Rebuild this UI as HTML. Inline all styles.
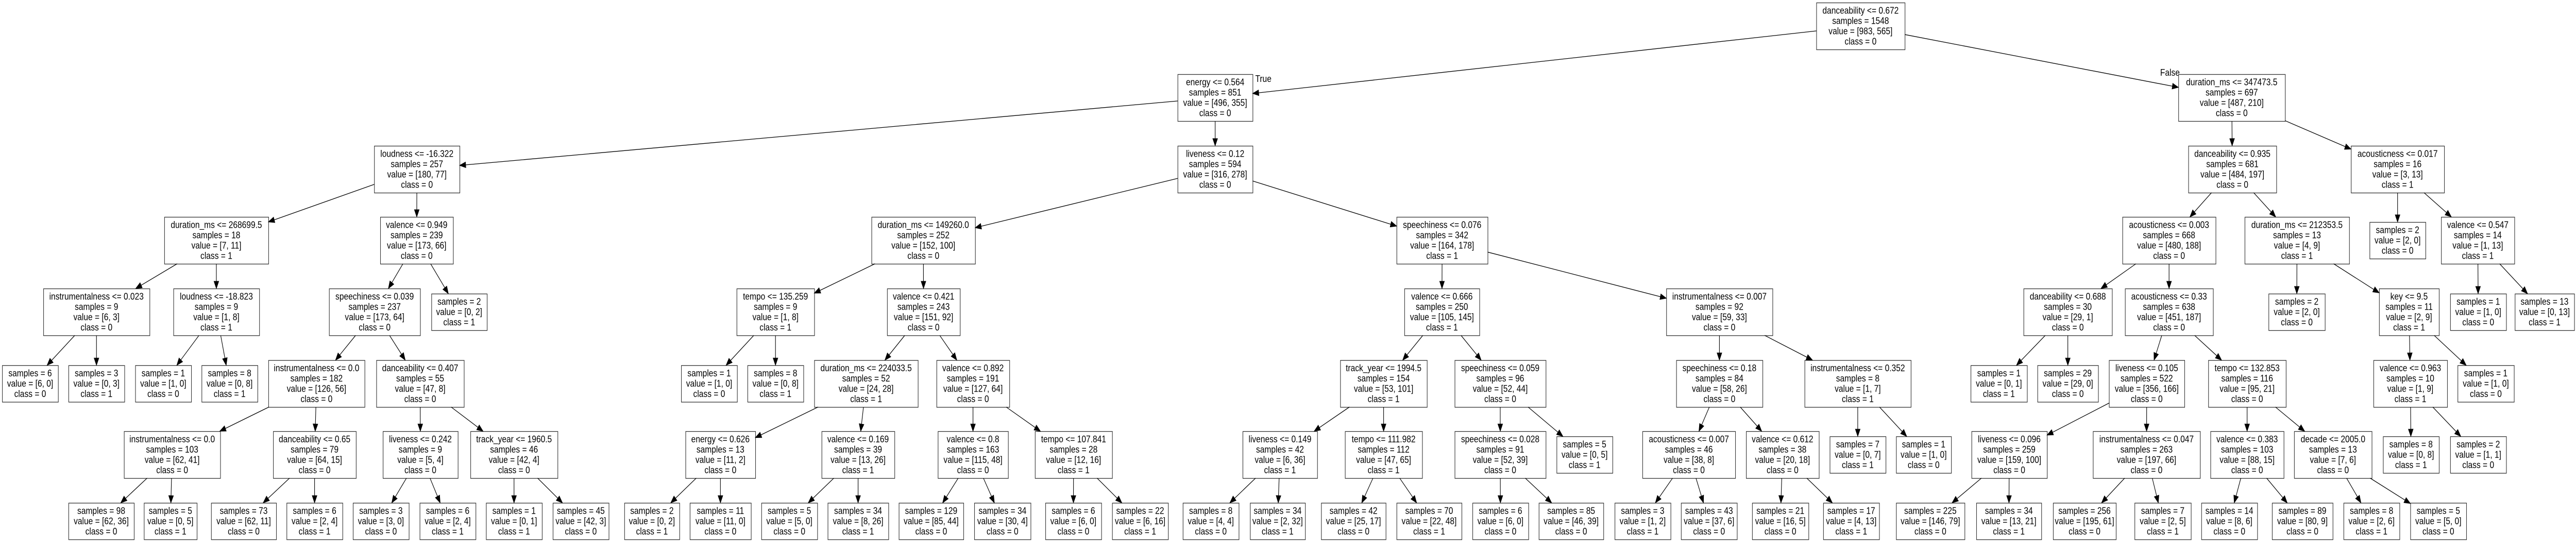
<!DOCTYPE html>
<html><head><meta charset="utf-8"><style>
html,body{margin:0;padding:0;background:#fff;width:100%;height:100%;overflow:hidden;}
svg{display:block;width:100vw;height:100vh;}
text{font-family:"Liberation Sans",Arial,sans-serif;font-size:18.5px;fill:#000;}
</style></head><body>
<svg id="s" xmlns="http://www.w3.org/2000/svg" viewBox="0 0 5941 1052" preserveAspectRatio="none">
<rect width="5941" height="1052" fill="#fff"/>
<text x="2895" y="159">True</text>
<text x="4982" y="147">False</text>
</svg>
<script>
var T=[5,144,283,421,560,699,837,976];
function N(x1,x2,r,t){var c=[].slice.call(arguments,4);return {x1:x1,x2:x2,r:r,t:t.split('|'),c:c};}
function L(x1,x2,r,s,v,c){return N(x1,x2,r,'samples = '+s+'|value = ['+v+']|class = '+c);}
var tree=
N(4189,4393,0,'danceability <= 0.672|samples = 1548|value = [983, 565]|class = 0',
 N(2716,2889,1,'energy <= 0.564|samples = 851|value = [496, 355]|class = 0',
  N(863,1060,2,'loudness <= -16.322|samples = 257|value = [180, 77]|class = 0',
   N(379,619,3,'duration_ms <= 268699.5|samples = 18|value = [7, 11]|class = 1',
    N(100,345,4,'instrumentalness <= 0.023|samples = 9|value = [6, 3]|class = 0',
     L(5,134,5,6,'6, 0',0), L(158,287,5,3,'0, 3',1)),
    N(400,598,4,'loudness <= -18.823|samples = 9|value = [1, 8]|class = 1',
     L(312,441,5,1,'1, 0',0), L(465,594,5,8,'0, 8',1))),
   N(877,1045,3,'valence <= 0.949|samples = 239|value = [173, 66]|class = 0',
    N(759,969,4,'speechiness <= 0.039|samples = 237|value = [173, 64]|class = 0',
     N(619,841,5,'instrumentalness <= 0.0|samples = 182|value = [126, 56]|class = 0',
      N(286,508,6,'instrumentalness <= 0.0|samples = 103|value = [62, 41]|class = 0',
       L(158,309,7,98,'62, 36',0), L(332,454,7,5,'0, 5',1)),
      N(630,821,6,'danceability <= 0.65|samples = 79|value = [64, 15]|class = 0',
       L(487,637,7,73,'62, 11',0), L(661,790,7,6,'2, 4',1))),
     N(868,1070,5,'danceability <= 0.407|samples = 55|value = [47, 8]|class = 0',
      N(883,1056,6,'liveness <= 0.242|samples = 9|value = [5, 4]|class = 0',
       L(814,943,7,3,'3, 0',0), L(968,1097,7,6,'2, 4',1)),
      N(1085,1286,6,'track_year <= 1960.5|samples = 46|value = [42, 4]|class = 0',
       L(1121,1250,7,1,'0, 1',1), L(1275,1404,7,45,'42, 3',0)))),
    L(995,1123,4,2,'0, 2',1))),
  N(2716,2889,2,'liveness <= 0.12|samples = 594|value = [316, 278]|class = 0',
   N(2010,2249,3,'duration_ms <= 149260.0|samples = 252|value = [152, 100]|class = 0',
    N(1699,1878,4,'tempo <= 135.259|samples = 9|value = [1, 8]|class = 1',
     L(1571,1700,5,1,'1, 0',0), L(1724,1853,5,8,'0, 8',1)),
    N(2046,2214,4,'valence <= 0.421|samples = 243|value = [151, 92]|class = 0',
     N(1878,2117,5,'duration_ms <= 224033.5|samples = 52|value = [24, 28]|class = 1',
      N(1581,1742,6,'energy <= 0.626|samples = 13|value = [11, 2]|class = 0',
       L(1440,1567,7,2,'0, 2',1), L(1591,1732,7,11,'11, 0',0)),
      N(1895,2063,6,'valence <= 0.169|samples = 39|value = [13, 26]|class = 1',
       L(1756,1885,7,5,'5, 0',0), L(1909,2049,7,34,'8, 26',1))),
     N(2160,2328,5,'valence <= 0.892|samples = 191|value = [127, 64]|class = 0',
      N(2163,2325,6,'valence <= 0.8|samples = 163|value = [115, 48]|class = 0',
       L(2073,2222,7,129,'85, 44',0), L(2247,2377,7,34,'30, 4',0)),
      N(2387,2565,6,'tempo <= 107.841|samples = 28|value = [12, 16]|class = 1',
       L(2411,2540,7,6,'6, 0',0), L(2565,2694,7,22,'6, 16',1))))),
   N(3221,3431,3,'speechiness <= 0.076|samples = 342|value = [164, 178]|class = 1',
    N(3239,3412,4,'valence <= 0.666|samples = 250|value = [105, 145]|class = 1',
     N(3091,3291,5,'track_year <= 1994.5|samples = 154|value = [53, 101]|class = 1',
      N(2866,3038,6,'liveness <= 0.149|samples = 42|value = [6, 36]|class = 1',
       L(2728,2857,7,8,'4, 4',0), L(2883,3010,7,34,'2, 32',1)),
      N(3102,3280,6,'tempo <= 111.982|samples = 112|value = [47, 65]|class = 1',
       L(3047,3196,7,42,'25, 17',0), L(3221,3371,7,70,'22, 48',1))),
     N(3355,3565,5,'speechiness <= 0.059|samples = 96|value = [52, 44]|class = 0',
      N(3355,3565,6,'speechiness <= 0.028|samples = 91|value = [52, 39]|class = 0',
       L(3396,3525,7,6,'6, 0',0), L(3549,3698,7,85,'46, 39',0)),
      L(3590,3719,6,5,'0, 5',1))),
    N(3843,4088,4,'instrumentalness <= 0.007|samples = 92|value = [59, 33]|class = 0',
     N(3866,4065,5,'speechiness <= 0.18|samples = 84|value = [58, 26]|class = 0',
      N(3788,4002,6,'acousticness <= 0.007|samples = 46|value = [38, 8]|class = 0',
       L(3724,3853,7,3,'1, 2',1), L(3877,4006,7,43,'37, 6',0)),
      N(4027,4195,6,'valence <= 0.612|samples = 38|value = [20, 18]|class = 0',
       L(4041,4171,7,21,'16, 5',0), L(4205,4334,7,17,'4, 13',1))),
     N(4162,4407,5,'instrumentalness <= 0.352|samples = 8|value = [1, 7]|class = 1',
      L(4220,4349,6,7,'0, 7',1), L(4373,4500,6,1,'1, 0',0)))))),
 N(5024,5270,1,'duration_ms <= 347473.5|samples = 697|value = [487, 210]|class = 0',
  N(5047,5250,2,'danceability <= 0.935|samples = 681|value = [484, 197]|class = 0',
   N(4895,5110,3,'acousticness <= 0.003|samples = 668|value = [480, 188]|class = 0',
    N(4667,4871,4,'danceability <= 0.688|samples = 30|value = [29, 1]|class = 0',
     L(4545,4675,5,1,'0, 1',1), L(4699,4839,5,29,'29, 0',0)),
    N(4901,5104,4,'acousticness <= 0.33|samples = 638|value = [451, 187]|class = 0',
     N(4864,5038,5,'liveness <= 0.105|samples = 522|value = [356, 166]|class = 0',
      N(4547,4721,6,'liveness <= 0.096|samples = 259|value = [159, 100]|class = 0',
       L(4373,4531,7,225,'146, 79',0), L(4558,4708,7,34,'13, 21',1)),
      N(4827,5074,6,'instrumentalness <= 0.047|samples = 263|value = [197, 66]|class = 0',
       L(4735,4880,7,256,'195, 61',0), L(4923,5053,7,7,'2, 5',1))),
     N(5093,5272,5,'tempo <= 132.853|samples = 116|value = [95, 21]|class = 0',
      N(5098,5267,6,'valence <= 0.383|samples = 103|value = [88, 15]|class = 0',
       L(5077,5206,7,14,'8, 6',0), L(5240,5380,7,89,'80, 9',0)),
      N(5291,5470,6,'decade <= 2005.0|samples = 13|value = [7, 6]|class = 0',
       L(5405,5534,7,8,'2, 6',1), L(5559,5688,7,5,'5, 0',0))))),
   N(5177,5418,3,'duration_ms <= 212353.5|samples = 13|value = [4, 9]|class = 1',
    L(5232,5362,4,2,'2, 0',0),
    N(5487,5625,4,'key <= 9.5|samples = 11|value = [2, 9]|class = 1',
     N(5474,5644,5,'valence <= 0.963|samples = 10|value = [1, 9]|class = 1',
      L(5496,5625,6,8,'0, 8',1), L(5651,5780,6,2,'1, 1',0)),
     L(5668,5798,5,1,'1, 0',0)))),
  N(5422,5637,2,'acousticness <= 0.017|samples = 16|value = [3, 13]|class = 1',
   L(5465,5594,3,2,'2, 0',0),
   N(5630,5799,3,'valence <= 0.547|samples = 14|value = [1, 13]|class = 1',
    L(5651,5780,4,1,'1, 0',0), L(5800,5937,4,13,'0, 13',1)))));
var svg=document.getElementById('s'),out='';
function box(n){var leaf=n.t.length==3;var y=n.r==7?976:T[n.r]+(leaf?10:0);var h=leaf?71:91;n.y1=y;n.y2=y+h;n.cx=(n.x1+n.x2)/2;n.cy=y+h/2;}
function clip(n,dx,dy){var hw=(n.x2-n.x1)/2,hh=(n.y2-n.y1)/2,t=1e9;
 if(dx!==0)t=Math.min(t,hw/Math.abs(dx));if(dy!==0)t=Math.min(t,hh/Math.abs(dy));return t;}
function walk(n){box(n);
 out+='<rect x="'+(n.x1+0.5)+'" y="'+(n.y1+0.5)+'" width="'+(n.x2-n.x1)+'" height="'+(n.y2-n.y1)+'" fill="#fff" stroke="#333" stroke-width="1.3"/>';
 for(var i=0;i<n.t.length;i++)out+='<text x="'+n.cx+'" y="'+(n.y1+21.5+20*i)+'" text-anchor="middle">'+n.t[i].replace(/</g,'&lt;')+'</text>';
 n.c.forEach(function(c){walk(c);
  var dx=c.cx-n.cx,dy=c.cy-n.cy,len=Math.sqrt(dx*dx+dy*dy),ux=dx/len,uy=dy/len;
  var t0=clip(n,ux,uy),t1=len-clip(c,ux,uy);
  var sx=n.cx+ux*t0,sy=n.cy+uy*t0,ex=n.cx+ux*t1,ey=n.cy+uy*t1,A=14,W=5.5;
  var bx=ex-ux*A,by=ey-uy*A;
  out+='<line x1="'+sx+'" y1="'+sy+'" x2="'+bx+'" y2="'+by+'" stroke="#000" stroke-width="1.3"/>';
  out+='<polygon points="'+ex+','+ey+' '+(bx-uy*W)+','+(by+ux*W)+' '+(bx+uy*W)+','+(by-ux*W)+'" fill="#000" stroke="#000"/>';
 });}
walk(tree);
svg.insertAdjacentHTML('beforeend',out);
</script>
</body></html>
